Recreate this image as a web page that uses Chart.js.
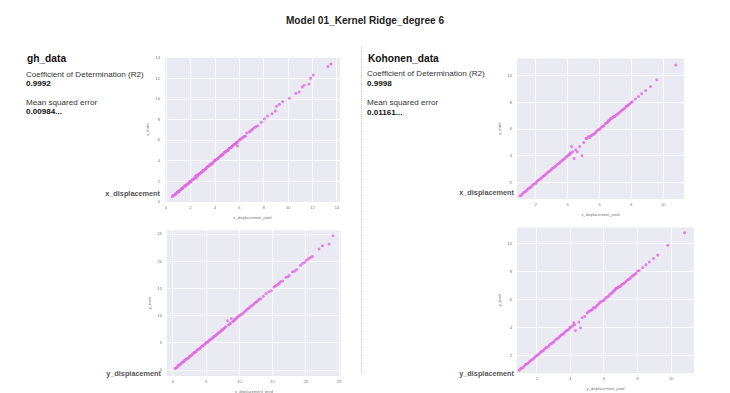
<!DOCTYPE html>
<html>
<head>
<meta charset="utf-8">
<script src="https://cdn.jsdelivr.net/npm/chart.js@4/dist/chart.umd.min.js"></script>
<style>
  body { margin: 0; background: #fff; font-family: "Liberation Sans", Arial, sans-serif; }
  #page { position: relative; width: 730px; height: 393px; overflow: hidden; }
  .t { position: absolute; white-space: nowrap; color: #222; line-height: 1; }
  .title { font-size: 10.1px; font-weight: bold; left: 0; width: 730px; text-align: center; top: 16px; }
  .name { font-size: 10.2px; font-weight: bold; color: #111; }
  .lab { font-size: 8.1px; color: #333; }
  .val { font-size: 8.1px; font-weight: bold; color: #111; }
  .row { font-size: 7.3px; font-weight: bold; color: #555; text-align: right; width: 140px; }
  .divider { position: absolute; left: 361px; top: 47px; height: 326px; border-left: 1px dotted #ccc; }
  canvas { position: absolute; }
</style>
</head>
<body>
<div id="page">
  <div class="t title">Model 01_Kernel Ridge_degree 6</div>

  <div class="t name" style="left:27px;top:54px">gh_data</div>
  <div class="t lab" style="left:26px;top:71px">Coefficient of Determination (R2)</div>
  <div class="t val" style="left:26px;top:80px">0.9992</div>
  <div class="t lab" style="left:26px;top:99px">Mean squared error</div>
  <div class="t val" style="left:26px;top:108px">0.00984...</div>
  <div class="t row" style="left:20px;top:190px">x_displacement</div>
  <div class="t row" style="left:21px;top:370px">y_displacement</div>

  <div class="divider"></div>

  <div class="t name" style="left:368px;top:54px">Kohonen_data</div>
  <div class="t lab" style="left:367px;top:70px">Coefficient of Determination (R2)</div>
  <div class="t val" style="left:367px;top:80px">0.9998</div>
  <div class="t lab" style="left:367px;top:99px">Mean squared error</div>
  <div class="t val" style="left:367px;top:109px">0.01161...</div>
  <div class="t row" style="left:374px;top:189px">x_displacement</div>
  <div class="t row" style="left:374px;top:370px">y_displacement</div>

  <canvas id="c1"></canvas>
  <canvas id="c2"></canvas>
  <canvas id="c3"></canvas>
  <canvas id="c4"></canvas>
</div>
<script>
// gh_data, x_displacement (pred vs truth)
const ghXPred = [0.5,0.6,0.7,0.8,0.9,1.0,1.1,1.2,1.3,1.4,1.5,1.6,1.7,1.8,1.9,2.0,2.1,2.2,2.3,2.4,2.45,2.5,2.6,2.7,2.8,2.9,3.0,3.1,3.2,3.3,3.4,3.5,3.6,3.7,3.8,3.9,4.0,4.1,4.2,4.3,4.4,4.5,4.6,4.7,4.8,4.9,5.0,5.1,5.2,5.3,5.4,5.5,5.6,5.7,5.8,5.85,5.9,6.0,6.2,6.4,6.6,6.8,7.0,7.24,7.5,7.79,8.05,8.3,8.68,8.95,9.05,9.28,9.55,10.1,10.63,10.9,11.16,11.3,11.7,11.84,12.06,13.26,13.5,
  0.55,0.75,0.95,1.05,1.25,1.35,1.55,1.65,1.85,1.95,2.05,2.25,2.55,2.65,2.85,3.05,3.25,3.35,3.55,3.75,3.95,4.05,4.25,4.45,4.55,4.65,4.85,5.05,5.15,5.35,5.45,5.65,5.75,6.1,6.3,6.5,6.9,7.1,7.35];
const ghXTruth = [0.5,0.65,0.7,0.85,0.9,1.0,1.15,1.2,1.3,1.45,1.5,1.6,1.75,1.8,1.9,2.0,2.15,2.2,2.35,2.55,2.3,2.6,2.6,2.75,2.8,2.9,3.05,3.1,3.2,3.3,3.45,3.5,3.6,3.75,3.8,3.9,4.05,4.1,4.2,4.35,4.4,4.5,4.6,4.75,4.8,4.9,5.0,5.1,5.25,5.3,5.4,5.55,5.6,5.7,5.75,5.45,5.9,6.05,6.2,6.4,6.7,6.8,7.0,7.24,7.42,7.74,8.08,8.36,8.58,8.83,9.3,9.49,9.77,10.08,10.55,10.7,11.18,11.34,11.47,12.03,12.34,13.16,13.4,
  0.6,0.7,1.0,1.0,1.3,1.3,1.6,1.6,1.8,2.0,2.0,2.2,2.5,2.7,2.9,3.0,3.2,3.4,3.6,3.7,4.0,4.1,4.2,4.5,4.6,4.6,4.9,5.0,5.2,5.3,5.5,5.6,5.8,6.1,6.3,6.4,6.9,7.1,7.3];
const ghXTicks = [0,2,4,6,8,10,12,14];

// gh_data, y_displacement
const ghYPred = [0.3,0.6,0.9,1.2,1.5,1.8,2.1,2.4,2.7,3.0,3.3,3.6,3.9,4.2,4.5,4.8,5.1,5.4,5.7,6.0,6.3,6.6,6.9,7.2,7.5,7.8,8.2,8.5,8.8,9.1,9.4,9.7,10.0,10.4,10.8,11.2,11.6,12.0,12.4,12.8,13.2,13.6,14.0,14.4,14.8,15.2,15.6,16.0,16.5,17.0,17.5,18.0,18.6,19.2,19.8,20.4,21.0,22.0,22.5,23.5,24.1,
  0.45,0.75,1.05,1.35,1.65,1.95,2.25,2.55,2.85,3.15,3.45,3.75,4.05,4.35,4.65,4.95,5.25,5.55,5.85,6.15,6.45,6.75,7.05,7.35,7.65,7.95,8.35,8.65,8.95,9.25,9.55,9.85,10.2,10.6,11.0,11.4,11.8,12.2,12.6,13.0,15.4,15.8,16.2,17.3,18.3,19.5,20.1,20.7];
const ghYTruth = [0.3,0.55,0.95,1.2,1.5,1.85,2.1,2.4,2.65,3.0,3.3,3.65,3.9,4.2,4.5,4.8,5.15,5.4,5.7,6.0,6.3,6.55,6.9,7.2,7.45,7.8,9.1,8.5,9.5,9.05,9.4,9.75,10.0,10.35,10.8,11.25,11.6,12.0,12.45,12.8,13.1,13.6,14.1,14.4,14.6,15.3,15.6,16.0,16.4,17.1,17.4,18.1,18.5,19.3,19.8,20.5,20.9,22.3,22.9,23.2,24.7,
  0.4,0.8,1.0,1.4,1.6,2.0,2.2,2.6,2.8,3.2,3.4,3.8,4.0,4.4,4.6,5.0,5.2,5.6,5.8,6.2,6.4,6.8,7.0,7.4,7.6,8.0,8.3,8.6,8.9,9.2,9.5,9.9,10.2,10.5,11.0,11.4,11.8,12.2,12.6,13.1,15.5,15.8,16.3,17.2,18.2,19.6,20.2,20.7];
const ghYTicks = [0,5,10,15,20,25];

// Kohonen_data, x_displacement
const kohXPred = [1.0,1.15,1.3,1.45,1.6,1.75,1.9,2.05,2.2,2.35,2.5,2.65,2.8,2.95,3.1,3.25,3.4,3.55,3.7,3.85,4.0,4.1,4.2,4.25,4.3,4.4,4.5,4.6,4.75,4.9,5.0,5.15,5.3,5.45,5.6,5.75,5.9,6.05,6.2,6.35,6.5,6.6,6.7,6.8,6.9,7.0,7.15,7.3,7.45,7.6,7.75,7.9,8.05,8.25,8.45,8.65,8.9,9.2,9.6,10.8,
  1.08,1.23,1.38,1.53,1.68,1.83,1.98,2.13,2.28,2.43,2.58,2.73,2.88,3.03,3.18,3.33,3.48,3.63,3.78,3.93,4.08,4.15,5.2,5.38,5.52,5.68,5.82,5.98,6.12,6.28,6.42,6.55,6.65,6.75,6.85,6.95,7.08,7.22,7.38,7.52,7.68,7.82,7.98];
const kohXTruth = [1.0,1.15,1.3,1.45,1.6,1.75,1.9,2.05,2.2,2.35,2.5,2.65,2.8,2.95,3.1,3.25,3.4,3.55,3.7,3.85,4.0,4.1,4.2,4.7,4.3,3.8,4.45,4.3,4.7,4.0,5.0,5.3,5.45,5.5,5.6,5.75,5.95,6.05,6.2,6.4,6.5,6.65,6.8,6.85,6.95,7.0,7.15,7.3,7.45,7.6,7.75,7.9,8.05,8.25,8.45,8.65,8.9,9.2,9.7,10.8,
  1.05,1.25,1.35,1.55,1.65,1.85,1.95,2.15,2.25,2.45,2.55,2.75,2.85,3.05,3.15,3.35,3.45,3.65,3.75,3.95,4.05,4.2,5.3,5.35,5.55,5.65,5.85,5.95,6.15,6.25,6.45,6.6,6.7,6.8,6.9,6.95,7.1,7.2,7.4,7.5,7.7,7.8,8.0];
const kohXTicks = [2,4,6,8,10];

// Kohonen_data, y_displacement
const kohYPred = [0.95,1.1,1.25,1.4,1.55,1.7,1.85,2.0,2.15,2.3,2.45,2.6,2.75,2.9,3.05,3.2,3.35,3.5,3.65,3.8,3.95,4.05,4.15,4.2,4.25,4.3,4.5,4.6,4.7,4.85,5.0,5.15,5.3,5.45,5.6,5.75,5.9,6.05,6.2,6.35,6.5,6.6,6.7,6.8,6.9,7.0,7.15,7.3,7.45,7.6,7.75,7.9,8.1,8.3,8.5,8.7,8.95,9.2,9.8,10.8,
  1.03,1.18,1.33,1.48,1.63,1.78,1.93,2.08,2.23,2.38,2.53,2.68,2.83,2.98,3.13,3.28,3.43,3.58,3.73,3.88,4.0,5.08,5.22,5.38,5.52,5.68,5.82,5.98,6.12,6.28,6.42,6.55,6.65,6.75,6.85,6.95,7.08,7.22,7.38,7.52,7.68,7.82,8.0];
const kohYTruth = [0.95,1.1,1.25,1.4,1.55,1.7,1.85,2.0,2.15,2.3,2.45,2.6,2.75,2.9,3.05,3.2,3.35,3.5,3.65,3.8,3.95,4.05,4.15,4.35,4.2,3.8,4.4,4.0,4.7,4.8,5.05,5.2,5.3,5.4,5.6,5.8,5.9,6.05,6.2,6.4,6.5,6.65,6.8,6.85,6.95,7.0,7.15,7.3,7.45,7.6,7.75,7.9,8.1,8.3,8.5,8.7,8.95,9.2,9.9,10.8,
  1.05,1.15,1.35,1.45,1.65,1.75,1.95,2.05,2.25,2.35,2.55,2.65,2.85,2.95,3.15,3.25,3.45,3.55,3.75,3.85,4.05,5.15,5.25,5.45,5.5,5.7,5.85,5.95,6.15,6.25,6.45,6.6,6.7,6.8,6.9,6.95,7.1,7.2,7.4,7.5,7.7,7.8,8.05];
const kohYTicks = [2,4,6,8,10];

const plotBg = {
  id: 'plotBg',
  beforeDraw(chart) {
    const a = chart.chartArea, c = chart.ctx;
    c.save();
    c.fillStyle = '#EAEAF2';
    c.fillRect(a.left, a.top, a.right - a.left, a.bottom - a.top);
    c.restore();
  }
};

const YW = 20, XH = 18, PT = 3, PR = 3;

function makeChart(id, area, xs, ys, xr, yr, xt, yt, xTitle, yTitle) {
  const cv = document.getElementById(id);
  const w = area.r - area.l + YW + PR;
  const h = area.b - area.t + XH + PT;
  cv.style.left = (area.l - YW) + 'px';
  cv.style.top = (area.t - PT) + 'px';
  cv.style.width = w + 'px';
  cv.style.height = h + 'px';
  cv.width = w; cv.height = h;
  const pts = xs.map((x, i) => ({ x: x, y: ys[i] }));
  const tickFont = { family: 'Liberation Sans', size: 4 };
  return new Chart(cv, {
    type: 'scatter',
    data: { datasets: [{
      data: pts,
      backgroundColor: 'rgba(224,104,224,0.8)',
      borderWidth: 0,
      pointRadius: 1.5
    }] },
    options: {
      responsive: false,
      animation: false,
      layout: { padding: { top: PT, right: PR, left: 0, bottom: 0 } },
      plugins: { legend: { display: false }, tooltip: { enabled: false } },
      scales: {
        x: {
          min: xr[0], max: xr[1],
          afterBuildTicks: s => { s.ticks = xt.map(v => ({ value: v })); },
          afterFit: s => { s.height = XH; },
          grid: { color: '#ffffff', lineWidth: 0.8, drawTicks: false },
          border: { display: false },
          ticks: { font: tickFont, color: '#777', padding: 3 },
          title: { display: true, text: xTitle, font: tickFont, color: '#777', padding: 0 }
        },
        y: {
          min: yr[0], max: yr[1],
          afterBuildTicks: s => { s.ticks = yt.map(v => ({ value: v })); },
          afterFit: s => { s.width = YW; },
          grid: { color: '#ffffff', lineWidth: 0.8, drawTicks: false },
          border: { display: false },
          ticks: { font: tickFont, color: '#777', padding: 5 },
          title: { display: true, text: yTitle, font: tickFont, color: '#777', padding: 0 }
        }
      }
    },
    plugins: [plotBg]
  });
}

makeChart('c1', { l: 165, r: 341, t: 53, b: 202 }, ghXPred, ghXTruth, [-0.1, 14.25], [0, 14.05], ghXTicks, ghXTicks, 'x_displacement_pred', 'x_truth');
makeChart('c2', { l: 167, r: 342, t: 226, b: 376 }, ghYPred, ghYTruth, [-0.9, 25.3], [-1.07, 25.7], ghYTicks, ghYTicks, 'y_displacement_pred', 'y_truth');
makeChart('c3', { l: 517, r: 685, t: 54, b: 199 }, kohXPred, kohXTruth, [0.81, 11.31], [0.76, 11.3], kohXTicks, kohXTicks, 'x_displacement_pred', 'x_truth');
makeChart('c4', { l: 517, r: 695, t: 223, b: 373 }, kohYPred, kohYTruth, [0.82, 11.36], [0.75, 11.18], kohYTicks, kohYTicks, 'y_displacement_pred', 'y_truth');
</script>
</body>
</html>
